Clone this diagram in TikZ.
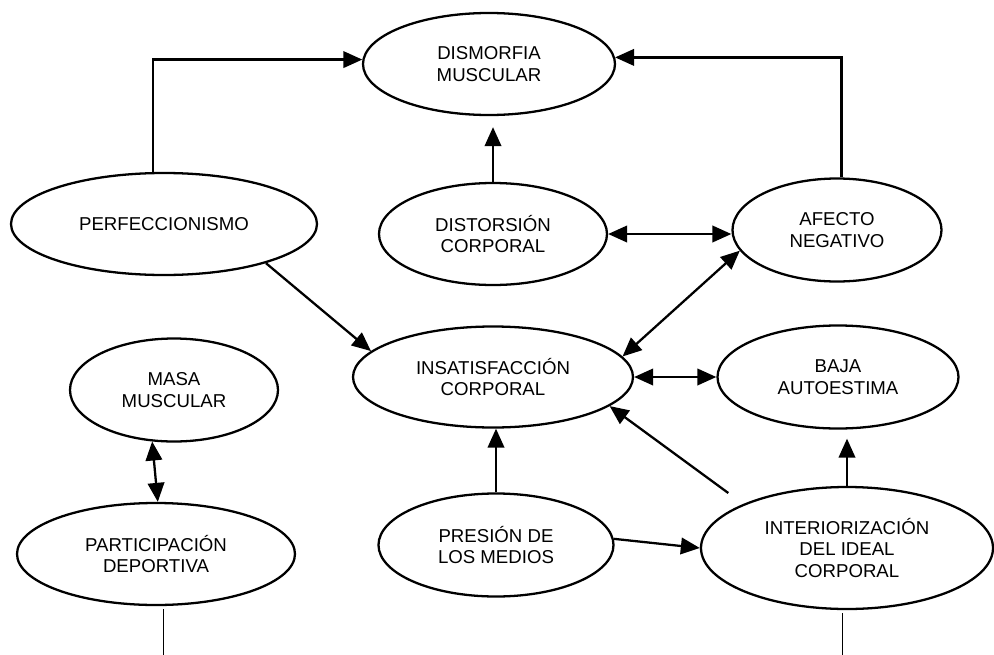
\documentclass[tikz,border=0pt]{standalone}
\usepackage{fontspec}
\setmainfont{Liberation Sans}
\usetikzlibrary{shapes.geometric,arrows.meta}

\begin{document}
\begin{tikzpicture}[
        factor/.style={ellipse, draw=black, line width=1.3pt, minimum width=5cm, minimum height=2.04cm, inner sep=0pt, align=center, font=\fontsize{10.6}{12.4}\selectfont},
        arrow/.style={-{Triangle[length=3.8mm, width=3.3mm]}, line width=1.3pt},
        twoway/.style={{Triangle[length=3.8mm, width=3.3mm]}-{Triangle[length=3.8mm, width=3.3mm]}, line width=1.3pt},
        thinline/.style={line width=0.4pt}
    ]
        \useasboundingbox (0,0) rectangle (19.88,-13.1);

        % Top row
        \node[factor, minimum width=5.04cm] (dism) at (9.78,-1.28) {DISMORFIA\\MUSCULAR};
        \node[factor, minimum width=6.12cm] (perf) at (3.28,-4.48) {PERFECCIONISMO};
        \node[factor, minimum width=4.56cm] (dist) at (9.86,-4.68) {DISTORSIÓN\\CORPORAL};
        \node[factor, minimum width=4.18cm, minimum height=2.06cm] (afecto) at (16.74,-4.60) {AFECTO\\NEGATIVO};

        % Middle row
        \node[factor, minimum width=5.6cm, minimum height=2.02cm] (insat) at (9.86,-7.54) {INSATISFACCIÓN\\CORPORAL};
        \node[factor, minimum width=4.16cm, minimum height=2.06cm] (masa) at (3.48,-7.80) {MASA\\MUSCULAR};
        \node[factor, minimum width=4.82cm, minimum height=2.06cm] (baja) at (16.76,-7.54) {BAJA\\AUTOESTIMA};

        % Bottom row
        \node[factor, minimum width=5.56cm] (part) at (3.12,-11.08) {PARTICIPACIÓN\\DEPORTIVA};
        \node[factor, minimum width=4.7cm, minimum height=2.06cm] (pres) at (9.92,-10.90) {PRESIÓN DE\\LOS MEDIOS};
        \node[factor, minimum width=5.84cm, minimum height=2.44cm] (inter) at (16.94,-10.96) {INTERIORIZACIÓN\\DEL IDEAL\\CORPORAL};

        % Loose ends at the bottom edge
        \coordinate (partfoot) at (3.26,-13.1);
        \coordinate (interfoot) at (16.84,-13.1);

        % Connections
        \draw[arrow] (perf.102) |- (dism.178);
        \draw[arrow] (afecto.85) |- (dism.3);
        \draw[arrow, shorten >=2.2mm] (dist.north) -- (dist.north |- dism.south);
        \draw[twoway] (dist.east) -- (dist.east -| afecto.west);
        \draw[twoway] (insat.9) -- (afecto.192);
        \draw[arrow] (perf.339) -- (insat.168);
        \draw[twoway] (insat.east) -- (baja.west);
        \draw[arrow, shorten <=3.7mm] (inter.157) -- (insat.346);
        \draw[arrow, shorten >=1.8mm] (inter.north) -- (inter.north |- baja.south);
        \draw[arrow] (pres.north) -- (pres.north |- insat.south);
        \draw[arrow] (pres.3) -- (inter.west);
        \draw[twoway] (masa.247) -- (part.88);
        \draw[thinline, shorten <=0.6mm] (partfoot |- part.south) -- (partfoot);
        \draw[thinline, shorten <=0.6mm] (interfoot |- inter.south) -- (interfoot);

    \end{tikzpicture}
\end{document}
